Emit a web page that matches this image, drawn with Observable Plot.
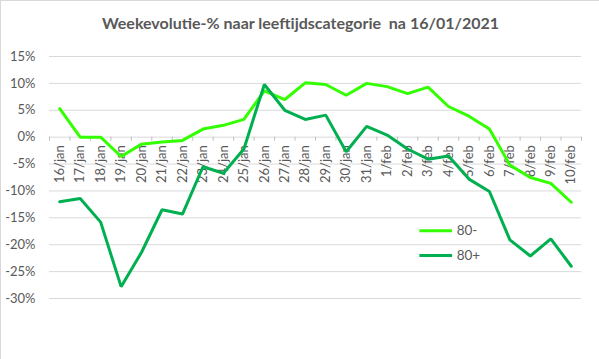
<!DOCTYPE html>
<html>
<head>
<meta charset="utf-8">
<script src="https://cdn.jsdelivr.net/npm/d3@7"></script>
<script src="https://cdn.jsdelivr.net/npm/@observablehq/plot@0.6"></script>
<style>
  html, body { margin: 0; padding: 0; background: #fff; }
  #wrap { position: relative; width: 599px; height: 359px; box-sizing: border-box;
          border-left: 1px solid #d9d9d9; border-top: 1px solid #d9d9d9; overflow: hidden; }
  #title { position: absolute; left: 0; top: 12px; width: 599px; text-align: center;
           font-family: Lato, "Open Sans", sans-serif; font-weight: bold; font-size: 16px; color: #595959; white-space: pre; }
  #chart { position: absolute; left: -1px; top: 39px; }
</style>
</head>
<body>
<div id="wrap">
  <div id="title">Weekevolutie-% naar leeftijdscategorie  na 16/01/2021</div>
  <div id="chart"></div>
</div>
<script>
const dates = ["16/jan","17/jan","18/jan","19/jan","20/jan","21/jan","22/jan","23/jan","24/jan","25/jan","26/jan","27/jan","28/jan","29/jan","30/jan","31/jan","1/feb","2/feb","3/feb","4/feb","5/feb","6/feb","7/feb","8/feb","9/feb","10/feb"];
const under80 = [5.3, 0.0, 0.0, -3.6, -1.3, -0.9, -0.6, 1.5, 2.2, 3.3, 8.6, 7.0, 10.1, 9.8, 7.8, 10.0, 9.4, 8.1, 9.3, 5.7, 3.9, 1.5, -5.2, -7.5, -8.6, -12.1];
const over80 = [-12.0, -11.4, -15.8, -27.8, -21.4, -13.5, -14.3, -5.5, -6.7, -2.2, 9.8, 5.0, 3.3, 4.1, -2.7, 2.0, 0.4, -2.2, -4.1, -3.5, -7.8, -10.1, -19.1, -22.1, -18.9, -24.0];
const seriesNames = ["80-", "80+"];
const seriesColors = ["#33ff00", "#00b050"];
const yTicks = [-30, -25, -20, -15, -10, -5, 0, 5, 10, 15];

const rows = [];
dates.forEach((d, i) => {
  rows.push({i, date: d, series: seriesNames[0], value: under80[i]});
  rows.push({i, date: d, series: seriesNames[1], value: over80[i]});
});
const labels = dates.map((d, i) => ({i, date: d}));
const bounds = d3.range(dates.length + 1).map(k => k - 0.5);
const legend = seriesNames.map((s, k) => ({series: s, k}));

const font = "Lato, 'Open Sans', sans-serif";
const plot = Plot.plot({
  width: 599,
  height: 320,
  marginLeft: 49,
  marginRight: 18,
  marginTop: 16,
  marginBottom: 62,
  style: {fontFamily: font, fontSize: "13px", color: "#595959", background: "transparent"},
  x: {type: "linear", domain: [-0.5, dates.length - 0.5], axis: null},
  y: {domain: [-30, 15], axis: null},
  color: {domain: seriesNames, range: seriesColors},
  marks: [
    Plot.ruleY(yTicks, {stroke: "#d9d9d9", strokeWidth: 1}),
    Plot.ruleX(bounds, {x: d => d, y1: 0, y2: -0.75, stroke: "#bfbfbf"}),
    Plot.text(yTicks, {x: -0.5, y: d => d, text: d => d + "%", textAnchor: "end", dx: -14, fill: "#595959", fontSize: 13}),
    Plot.text(labels, {x: "i", y: 0, text: "date", rotate: -90, textAnchor: "end", dy: 8, fill: "#595959", fontSize: 13}),
    Plot.line(rows, {x: "i", y: "value", z: "series", stroke: "series", strokeWidth: 3, strokeLinejoin: "miter"}),
    // legend
    Plot.ruleY(legend, {y: d => -17.4 - d.k * 4.6, x1: 17.6, x2: 19.2, stroke: "series", strokeWidth: 3}),
    Plot.text(legend, {y: d => -17.4 - d.k * 4.6, x: 19.4, text: "series", textAnchor: "start", fill: "#595959", fontSize: 13.5})
  ]
});
document.getElementById("chart").appendChild(plot);
</script>
</body>
</html>
